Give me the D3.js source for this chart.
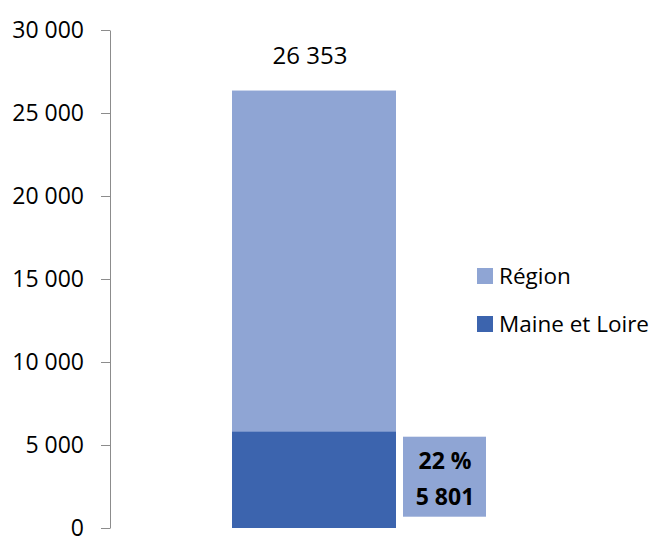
<!DOCTYPE html>
<html>
<head>
<meta charset="utf-8">
<script src="https://cdn.jsdelivr.net/npm/d3@7"></script>
<style>
  body { margin: 0; background: #fff; overflow: hidden; }
  text { font-family: "Open Sans", sans-serif; fill: #000; }
</style>
</head>
<body>
<div id="chart"></div>
<script>
var categories = ["Total"];
var regionValues = [26353];
var maineValues = [5801];
var shareLabels = ["22 %"];
var yTicks = [0, 5000, 10000, 15000, 20000, 25000, 30000];
var seriesNames = ["Région", "Maine et Loire"];
var colors = ["#8FA5D4", "#3C64AE"];

var width = 657, height = 537;

var svg = d3.select("#chart").append("svg")
    .attr("width", width)
    .attr("height", height)
    .style("display", "block");

var y = d3.scaleLinear().domain([0, 30000]).range([528, 30]);
var x = d3.scaleBand().domain(categories).range([150, 478])
    .paddingInner(0).paddingOuter(0.5);

var fmt = function (d) { return d3.format(",")(d).replace(/,/g, " "); };

// y axis
var yAxis = d3.axisLeft(y)
    .tickValues(yTicks)
    .tickSize(9)
    .tickSizeOuter(0)
    .tickPadding(17)
    .tickFormat(fmt);

var gy = svg.append("g")
    .attr("transform", "translate(110,0)")
    .call(yAxis);
gy.select(".domain").attr("stroke", "#8C8C8C");
gy.selectAll(".tick line").attr("stroke", "#8C8C8C");
gy.selectAll(".tick text")
    .style("font-family", "Open Sans")
    .style("font-size", "23px")
    .attr("fill", "#000");

// bars
svg.selectAll(".region")
    .data(categories)
    .enter().append("rect")
    .attr("class", "region")
    .attr("x", function (d) { return x(d); })
    .attr("width", x.bandwidth())
    .attr("y", function (d, i) { return y(regionValues[i]); })
    .attr("height", function (d, i) { return y(0) - y(regionValues[i]); })
    .attr("fill", colors[0]);

svg.selectAll(".maine")
    .data(categories)
    .enter().append("rect")
    .attr("class", "maine")
    .attr("x", function (d) { return x(d); })
    .attr("width", x.bandwidth())
    .attr("y", function (d, i) { return y(maineValues[i]); })
    .attr("height", function (d, i) { return y(0) - y(maineValues[i]); })
    .attr("fill", colors[1]);

// total label
svg.selectAll(".total")
    .data(categories)
    .enter().append("text")
    .attr("class", "total")
    .attr("x", function (d) { return x(d) + x.bandwidth() / 2 - 4; })
    .attr("y", function (d, i) { return y(regionValues[i]) - 27; })
    .attr("text-anchor", "middle")
    .style("font-size", "24px")
    .text(function (d, i) { return fmt(regionValues[i]); });

// share box
var bx = x(categories[0]) + x.bandwidth() + 7;
var box = svg.append("g");
box.append("rect")
    .attr("x", bx)
    .attr("y", y(maineValues[0]) + 5)
    .attr("width", 83)
    .attr("height", 80)
    .attr("fill", colors[0]);
box.append("text")
    .attr("x", bx + 42)
    .attr("y", y(maineValues[0]) + 37)
    .attr("text-anchor", "middle")
    .style("font-size", "23px")
    .style("font-weight", "bold")
    .text(shareLabels[0]);
box.append("text")
    .attr("x", bx + 42)
    .attr("y", y(maineValues[0]) + 73)
    .attr("text-anchor", "middle")
    .style("font-size", "23px")
    .style("font-weight", "bold")
    .text(fmt(maineValues[0]));

// legend
var legend = svg.selectAll(".legend")
    .data(seriesNames)
    .enter().append("g")
    .attr("class", "legend")
    .attr("transform", function (d, i) { return "translate(477," + (268 + i * 48) + ")"; });
legend.append("rect")
    .attr("width", 16)
    .attr("height", 16)
    .attr("fill", function (d, i) { return colors[i]; });
legend.append("text")
    .attr("x", 22)
    .attr("y", 16)
    .style("font-size", "22.5px")
    .text(function (d) { return d; });
</script>
</body>
</html>
